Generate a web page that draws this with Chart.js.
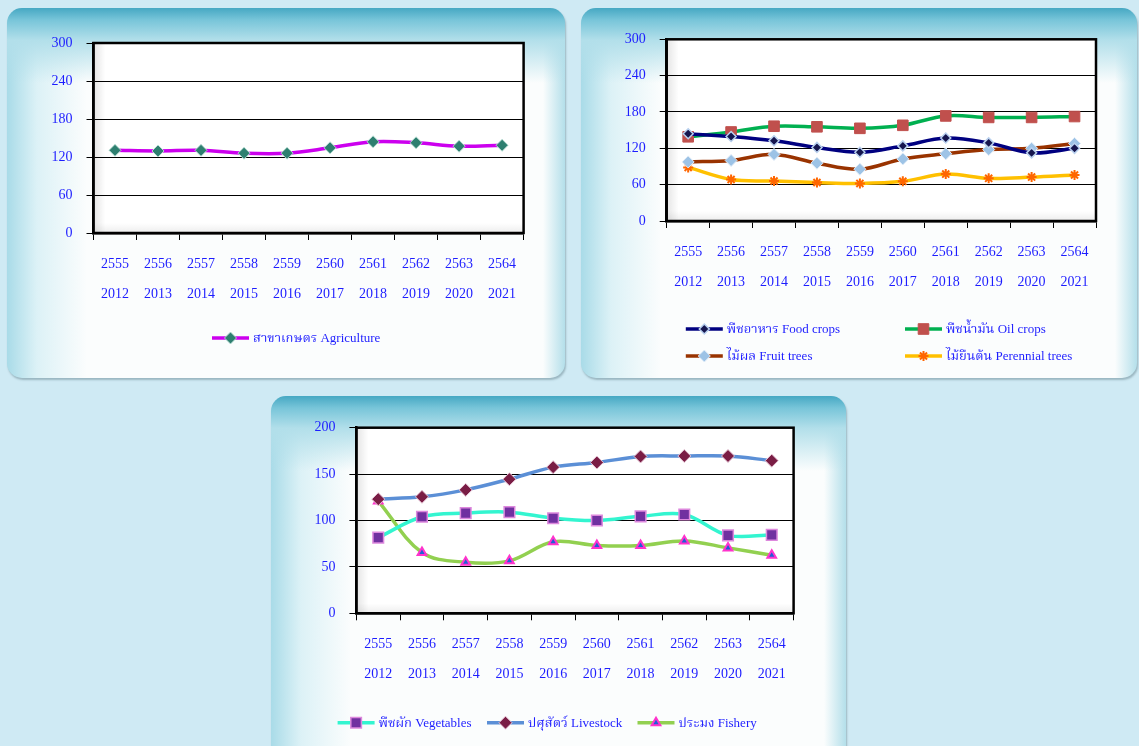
<!DOCTYPE html>
<html>
<head>
<meta charset="utf-8">
<script src="https://cdn.jsdelivr.net/npm/chart.js"></script>
<style>
  html, body { margin: 0; padding: 0; }
  body { width: 1139px; height: 746px; overflow: hidden; background: #cfeaf4; position: relative; font-family: 'Liberation Serif', 'Times New Roman', serif; }
  .panel {
    position: absolute; border-radius: 15px; overflow: hidden;
    box-shadow: 1px 2px 2px rgba(90,120,130,0.45);
    background:
      linear-gradient(to bottom, #46a8c3 0px, #78c5d9 12px, #b2dfea 32px, rgba(255,255,255,0) 75px),
      linear-gradient(to right, #a9dbe8 0px, rgba(200,234,242,0.6) 30px, rgba(255,255,255,0) 80px),
      linear-gradient(to left, #b4dfea 0px, rgba(255,255,255,0) 22px),
      #fbfdfd;
  }
  .wrap { position: absolute; left: 0; top: 0; }
</style>
</head>
<body>
<div class="panel" id="p1" style="left:7px; top:8px; width:558px; height:370px;"><div class="wrap" style="width:558px;height:370px;"><canvas id="c1"></canvas></div></div>
<div class="panel" id="p2" style="left:581px; top:8px; width:556px; height:370px;"><div class="wrap" style="width:556px;height:370px;"><canvas id="c2"></canvas></div></div>
<div class="panel" id="p3" style="left:271px; top:396px; width:575px; height:370px;"><div class="wrap" style="width:575px;height:350px;"><canvas id="c3"></canvas></div></div>
<script>
// ---------- DATA ----------
const yearsBE = ['2555','2556','2557','2558','2559','2560','2561','2562','2563','2564'];
const yearsCE = ['2012','2013','2014','2015','2016','2017','2018','2019','2020','2021'];

const agriculture = [130.5, 129.5, 130.5, 126, 126, 134.5, 144, 142.5, 137, 138.5];

const foodCrops      = [144, 139.5, 132.5, 121.5, 113.5, 124, 137, 129, 112.5, 120];
const oilCrops       = [139, 147, 156.5, 155.5, 153, 158, 173.5, 171, 171, 172.5];
const fruitTrees     = [97.5, 100, 110, 95.5, 85.5, 102.5, 111, 118, 120, 128];
const perennialTrees = [88.5, 68.5, 66, 63.5, 62, 65.5, 77.5, 70.5, 72.5, 76];

const vegetables = [81.5, 104, 108, 109, 102.5, 100, 104.5, 106.5, 84, 84.5];
const livestock  = [123, 125.5, 133, 144.5, 157.5, 162.5, 169, 169.5, 169.5, 164.5];
const fishery    = [121, 65.5, 55, 56.5, 77, 73, 73, 78, 70.5, 62.5];

const ticks1 = [0, 60, 120, 180, 240, 300];
const ticks3 = [0, 50, 100, 150, 200];

const labelsAgri  = ['สาขาเกษตร Agriculture'];
const labelsCrops = ['พืชอาหาร Food crops', 'พืชน้ำมัน Oil crops', 'ไม้ผล Fruit trees', 'ไม้ยืนต้น Perennial trees'];
const labelsOther = ['พืชผัก Vegetables', 'ปศุสัตว์ Livestock', 'ประมง Fishery'];

// ---------- STYLE ----------
const FONT = "'Liberation Serif', 'Times New Roman', 'Norasi', 'Noto Serif Thai', serif";
const BLUE = '#1d1dff';
const catLabels = yearsBE.map((b, i) => [b, yearsCE[i]]);

const plotDecor = {
  id: 'plotDecor',
  beforeDraw(chart) {
    const {ctx, chartArea: a} = chart;
    ctx.save();
    ctx.fillStyle = '#ffffff';
    ctx.fillRect(a.left, a.top, a.right - a.left, a.bottom - a.top);
    let g = ctx.createLinearGradient(a.left, 0, a.left + 12, 0);
    g.addColorStop(0, 'rgba(0,0,0,0.10)'); g.addColorStop(1, 'rgba(0,0,0,0)');
    ctx.fillStyle = g; ctx.fillRect(a.left, a.top, 12, a.bottom - a.top);
    g = ctx.createLinearGradient(0, a.bottom, 0, a.bottom - 10);
    g.addColorStop(0, 'rgba(0,0,0,0.07)'); g.addColorStop(1, 'rgba(0,0,0,0)');
    ctx.fillStyle = g; ctx.fillRect(a.left, a.bottom - 10, a.right - a.left, 10);
    ctx.restore();
  },
  beforeDatasetsDraw(chart) {
    const {ctx, chartArea: a} = chart;
    ctx.save();
    ctx.strokeStyle = '#000';
    ctx.lineWidth = 2.5;
    ctx.strokeRect(a.left, a.top, a.right - a.left, a.bottom - a.top);
    ctx.restore();
  },
  afterDraw(chart) {
    const cfg = chart.options.plugins.plotDecor;
    if (!cfg || !cfg.legend) return;
    const {ctx} = chart;
    ctx.save();
    cfg.legend.forEach((pos, i) => {
      const ds = chart.data.datasets[i];
      const x = pos[0], y = pos[1];
      ctx.strokeStyle = ds.borderColor;
      ctx.lineWidth = ds.borderWidth;
      ctx.lineCap = 'butt';
      ctx.beginPath(); ctx.moveTo(x, y); ctx.lineTo(x + 37, y); ctx.stroke();
      ctx.fillStyle = ds.pointBackgroundColor;
      ctx.strokeStyle = ds.pointBorderColor;
      ctx.lineWidth = ds.pointBorderWidth;
      Chart.helpers.drawPoint(ctx, {pointStyle: ds.pointStyle, rotation: 0, radius: ds.pointRadius, borderWidth: ds.pointBorderWidth}, x + 18.5, y);
      ctx.fillStyle = BLUE;
      ctx.font = '13px ' + FONT;
      ctx.textBaseline = 'middle';
      ctx.textAlign = 'left';
      ctx.fillText(ds.label, x + 41, y + 1);
    });
    ctx.restore();
  }
};

function makeOptions(maxY, step, pad, legendPos) {
  return {
    responsive: true,
    maintainAspectRatio: false,
    animation: false,
    devicePixelRatio: 1,
    layout: { padding: pad },
    plugins: { legend: { display: false }, tooltip: { enabled: false }, plotDecor: { legend: legendPos } },
    elements: { line: { tension: 0.35 } },
    scales: {
      x: {
        offset: true,
        grid: { display: true, drawOnChartArea: false, drawTicks: true, tickLength: 7, color: '#000', offset: true, lineWidth: 1 },
        border: { display: true, color: '#000', width: 2.5 },
        ticks: { color: BLUE, font: { family: FONT, size: 14 , lineHeight: 30 / 14 }, padding: 9, maxRotation: 0, autoSkip: false },
        afterFit(s) { s.height = 80; }
      },
      y: {
        min: 0, max: maxY,
        grid: { color: '#000', lineWidth: 1, tickLength: 7, drawTicks: true },
        border: { display: true, color: '#000', width: 2.5 },
        ticks: { stepSize: step, color: BLUE, font: { family: FONT, size: 14 }, padding: 14 },
        afterFit(s) { s.width = 50; }
      }
    }
  };
}

function ds(label, data, color, pStyle, pRadius, pBg, pBorder, pBw) {
  return {
    label, data,
    borderColor: color, backgroundColor: color, borderWidth: 3.5,
    pointStyle: pStyle, pointRadius: pRadius,
    pointBackgroundColor: pBg, pointBorderColor: pBorder, pointBorderWidth: pBw,
    fill: false
  };
}

// Chart 1
new Chart(document.getElementById('c1'), {
  type: 'line',
  data: {
    labels: catLabels,
    datasets: [ ds(labelsAgri[0], agriculture, '#cc00ee', 'rectRot', 6, '#2e7f70', 'rgba(190,225,215,0.9)', 1) ]
  },
  options: makeOptions(ticks1[ticks1.length - 1], ticks1[1] - ticks1[0],
    { left: 36.5, right: 41.4, top: 35, bottom: 65 }, [[205, 330]]),
  plugins: [plotDecor]
});

// Chart 2
new Chart(document.getElementById('c2'), {
  type: 'line',
  data: {
    labels: catLabels,
    datasets: [
      ds(labelsCrops[0], foodCrops, '#000080', 'rectRot', 5, '#16164f', '#b8d0ee', 1.5),
      ds(labelsCrops[1], oilCrops, '#00b050', 'rect', 7.5, '#c0504d', '#c0504d', 1),
      ds(labelsCrops[2], fruitTrees, '#993300', 'rectRot', 6, '#9dc3e6', '#e0ecf8', 1),
      ds(labelsCrops[3], perennialTrees, '#ffc000', 'star', 5, '#ff6600', '#ff6600', 2)
    ]
  },
  options: makeOptions(ticks1[ticks1.length - 1], ticks1[1] - ticks1[0],
    { left: 35.7, right: 41, top: 31.3, bottom: 77 }, [[104.8, 321], [324, 321], [104.8, 348], [324, 348]]),
  plugins: [plotDecor]
});

// Chart 3
new Chart(document.getElementById('c3'), {
  type: 'line',
  data: {
    labels: catLabels,
    datasets: [
      ds(labelsOther[0], vegetables, '#33f5d0', 'rect', 7.5, '#7030a0', '#dd88dd', 1.5),
      ds(labelsOther[1], livestock, '#5b8fd6', 'rectRot', 6.5, '#7a1d45', '#e8c8d8', 1),
      ds(labelsOther[2], fishery, '#92d050', 'triangle', 5, '#1f5fd6', '#ff33cc', 2)
    ]
  },
  options: makeOptions(ticks3[ticks3.length - 1], ticks3[1] - ticks3[0],
    { left: 35.4, right: 52.4, top: 31.7, bottom: 52.7 }, [[66.6, 326.7], [216, 326.7], [366.5, 326.7]]),
  plugins: [plotDecor]
});
</script>
</body>
</html>
